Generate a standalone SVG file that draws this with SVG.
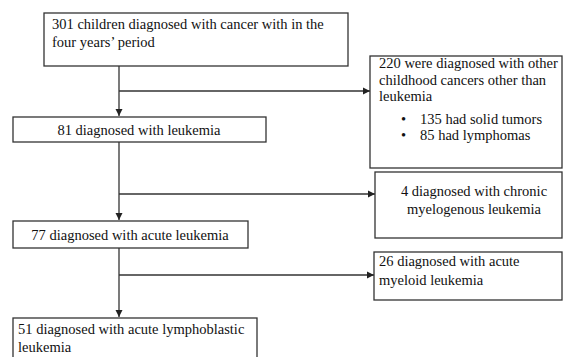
<svg xmlns="http://www.w3.org/2000/svg" width="563" height="357" viewBox="0 0 563 357">
<defs>
<marker id="ah" markerWidth="8" markerHeight="8" refX="7" refY="4" orient="auto" markerUnits="userSpaceOnUse">
<path d="M0,0.5 L7,4 L0,7.5 Z" fill="#222"/>
</marker>
<style>
.box{fill:#fff;stroke:#333;stroke-width:1.3}
.ln{fill:none;stroke:#333;stroke-width:1.3}
.c{text-anchor:middle}
.t{font-family:'Liberation Serif','DejaVu Serif',serif;font-size:14.5px;fill:#111}
</style>
</defs>
<rect width="563" height="357" fill="#fff"/>
<g id="connectors">
<line class="ln" x1="119" y1="66" x2="119" y2="116" marker-end="url(#ah)"/>
<line class="ln" x1="119" y1="91" x2="370" y2="91" marker-end="url(#ah)"/>
<line class="ln" x1="119" y1="142" x2="119" y2="220" marker-end="url(#ah)"/>
<line class="ln" x1="119" y1="194" x2="375" y2="194" marker-end="url(#ah)"/>
<line class="ln" x1="119" y1="248" x2="119" y2="317" marker-end="url(#ah)"/>
<line class="ln" x1="119" y1="275" x2="374" y2="275" marker-end="url(#ah)"/>
</g>
<g class="t">
<g id="n301">
<rect class="box" x="44" y="13" width="304" height="53"/>
<text x="52" y="29">301 children diagnosed with cancer with in the</text>
<text x="52" y="47">four years’ period</text>
</g>
<g id="n220">
<rect class="box" x="370" y="56" width="192" height="112"/>
<text x="379" y="68">220 were diagnosed with other</text>
<text x="379" y="85">childhood cancers other than</text>
<text x="379" y="101">leukemia</text>
<text x="401" y="124">•</text>
<text x="420" y="124">135 had solid tumors</text>
<text x="401" y="140">•</text>
<text x="420" y="140">85 had lymphomas</text>
</g>
<g id="n81">
<rect class="box" x="13" y="117" width="253" height="25"/>
<text class="c" x="139" y="135">81 diagnosed with leukemia</text>
</g>
<g id="n4">
<rect class="box" x="375" y="172" width="187" height="66"/>
<text class="c" x="474" y="196">4 diagnosed with chronic</text>
<text class="c" x="474" y="214">myelogenous leukemia</text>
</g>
<g id="n77">
<rect class="box" x="13" y="221" width="235" height="27"/>
<text class="c" x="130" y="240">77 diagnosed with acute leukemia</text>
</g>
<g id="n26">
<rect class="box" x="374" y="252" width="188" height="48"/>
<text x="379" y="266">26 diagnosed with acute</text>
<text x="379" y="285">myeloid leukemia</text>
</g>
<g id="n51">
<rect class="box" x="13" y="318" width="244" height="45"/>
<text x="18" y="334">51 diagnosed with acute lymphoblastic</text>
<text x="18" y="352">leukemia</text>
</g>
</g>
</svg>
